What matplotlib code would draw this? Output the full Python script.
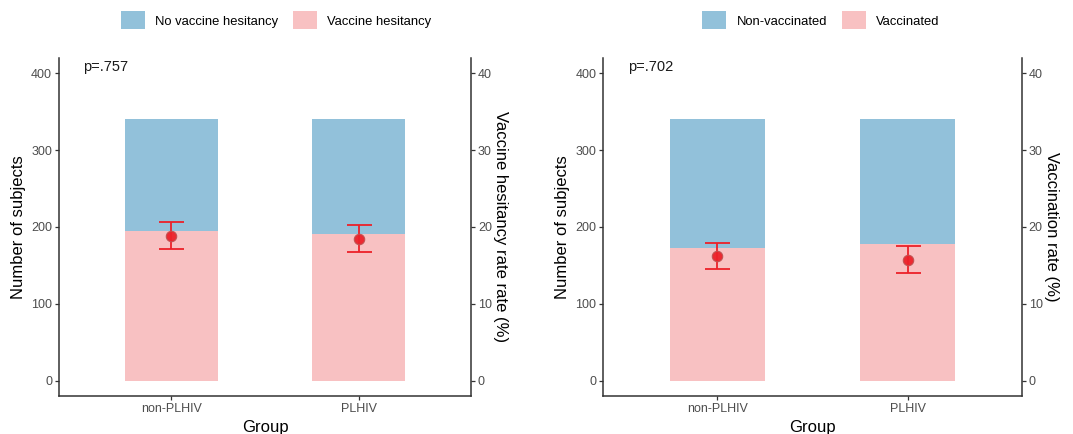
import numpy as np
import matplotlib.pyplot as plt
from matplotlib.patches import Patch

plt.rcParams["font.family"] = ["Liberation Sans", "DejaVu Sans"]

groups = ["non-PLHIV", "PLHIV"]

# Left panel: vaccine hesitancy
hes_total = [340, 340]
hes_yes = [195, 191]
hes_rate = [18.85, 18.5]
hes_low = [17.1, 16.7]
hes_high = [20.6, 20.2]
hes_p = "p=.757"

# Right panel: vaccination
vac_total = [340, 340]
vac_yes = [172.5, 178]
vac_rate = [16.25, 15.7]
vac_low = [14.5, 14.0]
vac_high = [17.95, 17.5]
vac_p = "p=.702"

BLUE = "#92c1da"
PINK = "#f8c1c2"
RED = "#ec2129"
AXIS = "#333333"
TICK_TEXT = "#4d4d4d"


def draw_panel(ax, total, yes, rate, low, high, p_text, labels, rate_label, legend_x):
    x = np.arange(1, len(groups) + 1)
    rest = np.array(total) - np.array(yes)

    ax.bar(x, yes, width=0.5, color=PINK, edgecolor="none", zorder=1)
    ax.bar(x, rest, bottom=yes, width=0.5, color=BLUE, edgecolor="none", zorder=1)

    ax.set_xlim(0.4, 2.6)
    ax.set_ylim(-20, 420)
    ax.set_yticks([0, 100, 200, 300, 400])
    ax.set_xticks(x)
    ax.set_xticklabels(groups)
    ax.set_xlabel("Group", fontsize=12, labelpad=4)
    ax.set_ylabel("Number of subjects", fontsize=12, labelpad=4)

    ax2 = ax.twinx()
    ax2.set_ylim(-2, 42)
    ax2.set_yticks([0, 10, 20, 30, 40])
    err = [np.array(rate) - np.array(low), np.array(high) - np.array(rate)]
    ax2.errorbar(x, rate, yerr=err, fmt="none", ecolor=RED, elinewidth=1.3,
                 capsize=9, capthick=1.3, zorder=3)
    ax2.plot(x, rate, "o", color=RED, markersize=7.5, markeredgecolor="#c05050",
             markeredgewidth=0.8, alpha=0.95, zorder=4)
    ax2.set_ylabel(rate_label, fontsize=12, rotation=270, labelpad=11.5)

    for a in (ax, ax2):
        a.spines["top"].set_visible(False)
        a.tick_params(axis="both", colors=AXIS, labelcolor=TICK_TEXT, labelsize=9,
                      length=3, width=0.9, pad=2)
        for s in a.spines.values():
            s.set_color(AXIS)
            s.set_linewidth(1.1)
    ax.spines["right"].set_visible(False)
    ax2.spines["left"].set_visible(False)
    ax2.spines["bottom"].set_visible(False)

    ax.text(0.53, 408, p_text, fontsize=10.5, color="#1a1a1a", ha="left", va="center")

    handles = [Patch(facecolor=BLUE, edgecolor="none", label=labels[0]),
               Patch(facecolor=PINK, edgecolor="none", label=labels[1])]
    ax.legend(handles=handles, loc="center", bbox_to_anchor=(legend_x, 1.111), ncol=2,
              frameon=False, fontsize=9.4, handlelength=1.85, handleheight=1.75,
              handletextpad=0.8, columnspacing=1.1, borderaxespad=0)


fig = plt.figure(figsize=(10.73, 4.34), dpi=100)
ax_left = fig.add_axes([0.055, 0.0876, 0.384, 0.7788])
ax_right = fig.add_axes([0.5623, 0.0876, 0.3899, 0.7788])

draw_panel(ax_left, hes_total, hes_yes, hes_rate, hes_low, hes_high, hes_p,
           ["No vaccine hesitancy", "Vaccine hesitancy"],
           "Vaccine hesitancy rate rate (%)", 0.527)
draw_panel(ax_right, vac_total, vac_yes, vac_rate, vac_low, vac_high, vac_p,
           ["Non-vaccinated", "Vaccinated"],
           "Vaccination rate (%)", 0.52)

fig.savefig("out.png", dpi=100)
